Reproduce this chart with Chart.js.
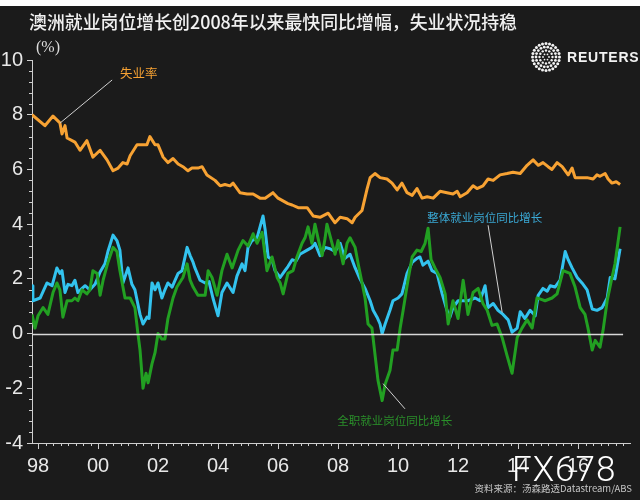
<!DOCTYPE html>
<html><head><meta charset="utf-8">
<script src="https://cdn.jsdelivr.net/npm/chart.js@4.4.0/dist/chart.umd.min.js"></script>
<style>
html,body{margin:0;padding:0;background:#1b1b1b;overflow:hidden}
#wrap{position:relative;width:640px;height:500px}
canvas{display:block}
</style>
</head><body>
<div id="wrap"><canvas id="c" width="640" height="500"></canvas></div>
<script>
// ---------- text ----------
const titleText = '澳洲就业岗位增长创2008年以来最快同比增幅，失业状况持稳';
const unitText = '(%)';
const sourceText = '资料来源：汤森路透Datastream/ABS';
const labelUnemp = '失业率';
const labelTotal = '整体就业岗位同比增长';
const labelFull = '全职就业岗位同比增长';
const watermark = 'FX678';

// ---------- ticks ----------
const xTickYears = [1998, 2000, 2002, 2004, 2006, 2008, 2010, 2012, 2014, 2016];
const xTickLabels = ['98', '00', '02', '04', '06', '08', '10', '12', '14', '16'];
const yTickValues = [-4, -2, 0, 2, 4, 6, 8, 10];

// ---------- unemployment rate (%) ----------
const unempYear = [1997.80,1998.23,1998.50,1998.73,1998.80,1998.90,1998.97,1999.23,1999.40,1999.63,1999.83,2000.07,2000.30,2000.50,2000.67,2000.83,2000.97,2001.07,2001.30,2001.47,2001.63,2001.73,2001.90,2002.00,2002.17,2002.33,2002.50,2002.67,2002.83,2003.00,2003.13,2003.33,2003.47,2003.63,2003.90,2004.07,2004.23,2004.40,2004.50,2004.73,2004.97,2005.17,2005.40,2005.57,2005.83,2006.00,2006.33,2006.47,2006.67,2006.97,2007.17,2007.40,2007.67,2007.90,2008.07,2008.30,2008.47,2008.57,2008.80,2008.97,2009.07,2009.23,2009.40,2009.63,2009.80,2009.97,2010.13,2010.30,2010.47,2010.63,2010.80,2010.97,2011.17,2011.40,2011.63,2011.83,2011.97,2012.07,2012.30,2012.50,2012.63,2012.83,2013.00,2013.17,2013.40,2013.63,2013.83,2014.07,2014.30,2014.50,2014.67,2014.83,2015.00,2015.13,2015.30,2015.47,2015.67,2015.80,2015.90,2016.07,2016.30,2016.50,2016.63,2016.73,2016.90,2017.00,2017.13,2017.27,2017.40];
const unempRate = [8.0,7.6,7.95,7.7,7.3,7.6,7.15,7.0,6.7,7.05,6.45,6.7,6.35,5.95,6.05,6.25,6.2,6.5,6.9,6.9,6.9,7.2,6.9,6.9,6.45,6.25,6.4,6.2,6.1,5.95,6.05,6.05,6.1,5.8,5.6,5.4,5.45,5.4,5.5,5.15,5.1,5.1,4.95,4.95,5.15,4.95,4.75,4.7,4.6,4.6,4.3,4.25,4.4,4.05,4.25,4.2,4.05,4.25,4.5,5.3,5.7,5.85,5.7,5.65,5.5,5.25,5.5,5.15,5.05,5.3,4.95,5.0,4.95,5.2,5.15,5.1,5.2,5.0,5.15,5.4,5.3,5.4,5.65,5.6,5.8,5.85,5.9,5.85,6.15,6.35,6.15,6.25,6.1,6.0,6.25,6.1,5.8,6.05,5.7,5.7,5.7,5.65,5.8,5.75,5.85,5.65,5.5,5.55,5.45];

// ---------- total employment growth, y/y (%) ----------
const totalYear = [1997.80,1997.83,1998.07,1998.30,1998.47,1998.63,1998.73,1998.80,1998.90,1999.00,1999.13,1999.23,1999.33,1999.47,1999.57,1999.73,1999.90,2000.07,2000.23,2000.33,2000.50,2000.63,2000.73,2000.83,2001.00,2001.13,2001.23,2001.40,2001.50,2001.63,2001.70,2001.80,2001.90,2002.00,2002.13,2002.23,2002.33,2002.47,2002.57,2002.67,2002.80,2002.97,2003.07,2003.17,2003.23,2003.40,2003.57,2003.70,2003.83,2004.00,2004.13,2004.30,2004.50,2004.63,2004.80,2004.90,2005.00,2005.13,2005.30,2005.40,2005.50,2005.57,2005.67,2005.80,2005.90,2006.07,2006.23,2006.33,2006.47,2006.60,2006.73,2006.97,2007.13,2007.23,2007.40,2007.57,2007.73,2007.90,2008.07,2008.23,2008.40,2008.57,2008.73,2008.90,2009.07,2009.17,2009.30,2009.40,2009.47,2009.57,2009.73,2009.83,2010.00,2010.13,2010.30,2010.47,2010.63,2010.73,2010.83,2011.00,2011.13,2011.30,2011.47,2011.63,2011.73,2011.83,2012.00,2012.33,2012.57,2012.73,2012.90,2013.00,2013.17,2013.33,2013.50,2013.67,2013.80,2013.97,2014.07,2014.23,2014.40,2014.57,2014.67,2014.83,2014.97,2015.07,2015.23,2015.40,2015.57,2015.67,2015.80,2015.97,2016.13,2016.30,2016.47,2016.63,2016.80,2016.97,2017.07,2017.23,2017.40];
const totalGrowth = [1.75,1.2,1.3,1.85,1.75,2.4,2.2,2.3,1.5,1.8,1.75,1.95,1.5,1.65,1.75,1.6,1.8,2.25,2.55,3.0,3.6,3.4,3.05,1.85,2.4,1.8,1.6,0.7,0.35,0.6,0.55,1.85,1.6,1.85,1.3,1.6,1.85,1.7,1.95,2.2,2.3,3.15,2.85,2.6,2.4,1.95,1.85,1.9,1.3,0.65,1.5,1.85,1.5,2.1,2.55,2.3,3.15,3.4,3.5,3.9,4.3,3.8,2.8,2.7,2.3,2.05,2.3,2.45,2.7,2.65,2.9,3.05,3.15,3.3,2.85,3.15,3.1,3.0,3.3,2.75,2.9,2.4,2.0,1.65,1.2,0.85,0.6,0.35,0.0,0.35,0.85,1.2,1.3,1.45,2.2,2.6,2.75,2.8,2.5,2.65,2.3,2.2,1.45,0.85,0.6,0.95,1.2,1.2,1.3,1.2,1.75,0.95,1.1,0.85,0.7,0.5,0.05,0.2,0.8,0.55,0.85,0.65,1.4,1.65,1.55,1.75,1.7,1.95,3.0,2.7,2.4,2.05,1.85,1.6,0.9,0.85,0.95,1.3,2.05,2.0,3.1];

// ---------- full-time employment growth, y/y (%) ----------
const fullYear = [1997.80,1997.90,1998.00,1998.17,1998.33,1998.50,1998.63,1998.73,1998.83,1998.97,1999.13,1999.23,1999.33,1999.47,1999.63,1999.73,1999.83,1999.97,2000.07,2000.17,2000.33,2000.50,2000.63,2000.73,2000.90,2001.07,2001.23,2001.33,2001.40,2001.50,2001.60,2001.67,2001.80,2001.90,2002.00,2002.13,2002.23,2002.33,2002.50,2002.63,2002.83,2002.97,2003.07,2003.17,2003.33,2003.57,2003.67,2003.80,2003.97,2004.13,2004.30,2004.47,2004.67,2004.83,2005.00,2005.17,2005.30,2005.47,2005.63,2005.80,2005.97,2006.07,2006.17,2006.33,2006.50,2006.63,2006.80,2006.90,2007.00,2007.13,2007.23,2007.33,2007.47,2007.57,2007.63,2007.80,2007.90,2008.00,2008.17,2008.30,2008.40,2008.57,2008.67,2008.80,2008.90,2009.00,2009.13,2009.23,2009.33,2009.47,2009.57,2009.73,2009.83,2009.97,2010.07,2010.17,2010.33,2010.47,2010.63,2010.77,2010.90,2011.00,2011.10,2011.23,2011.40,2011.57,2011.67,2011.83,2012.00,2012.17,2012.33,2012.50,2012.67,2012.83,2012.97,2013.13,2013.30,2013.47,2013.63,2013.80,2013.97,2014.13,2014.30,2014.47,2014.63,2014.77,2014.90,2015.13,2015.30,2015.50,2015.73,2015.90,2016.07,2016.23,2016.33,2016.47,2016.57,2016.73,2016.83,2016.97,2017.13,2017.23,2017.40];
const fullGrowth = [0.7,0.2,0.65,0.95,0.7,1.5,1.85,1.6,0.6,1.2,1.2,1.3,1.2,1.6,1.45,1.6,2.3,2.2,1.4,1.95,2.6,3.15,3.0,2.3,1.3,1.3,0.95,0.0,-0.6,-2.0,-1.45,-1.8,-1.1,-0.7,0.0,-0.2,-0.2,0.55,1.3,1.7,2.05,2.55,1.95,1.7,1.4,1.4,2.3,2.05,1.4,2.3,2.9,2.4,3.05,3.4,3.2,3.65,3.3,3.7,2.3,2.8,2.05,1.85,1.45,2.2,2.3,2.8,3.3,3.5,3.9,3.3,4.0,3.5,2.85,3.5,4.0,3.3,2.9,3.4,2.55,3.3,3.5,3.15,2.55,1.85,1.3,0.35,0.2,-0.75,-1.7,-2.45,-1.85,-1.35,-0.6,-0.6,0.2,0.85,1.95,2.8,3.05,3.0,3.3,3.85,2.7,2.4,2.05,1.45,0.35,1.2,0.55,1.95,0.7,1.5,1.65,1.1,0.85,0.3,0.35,-0.15,-0.8,-1.45,-0.15,0.2,0.5,0.2,1.3,1.25,1.2,1.3,1.45,2.3,2.2,1.7,0.95,0.7,0.2,-0.6,-0.25,-0.5,0.1,1.2,2.05,2.55,3.9];

const pts = (xs, ys) => xs.map((x, i) => ({ x: x, y: ys[i] }));

const BG = '#1b1b1b';
const AXIS = '#cfcfcf';
const CJK = '"Noto Sans CJK SC", "Noto Sans", sans-serif';

const decor = {
  id: 'decor',
  beforeDraw(chart) {
    const c = chart.ctx;
    c.save();
    c.fillStyle = '#ffffff';
    c.fillRect(0, 0, chart.width, chart.height);
    c.fillStyle = BG;
    c.fillRect(0, 6, chart.width, chart.height - 6);
    c.restore();
  },
  afterDatasetsDraw(chart) {
    const c = chart.ctx, x = chart.scales.x, y = chart.scales.y;
    c.save();
    c.strokeStyle = '#d8d8d8';
    c.lineWidth = 1.5;
    c.beginPath();
    const y0 = Math.round(y.getPixelForValue(0)) + 0.5;
    c.moveTo(x.left, y0);
    c.lineTo(x.getPixelForValue(2017.5), y0);
    c.stroke();
    c.restore();
  },
  afterDraw(chart) {
    const c = chart.ctx, x = chart.scales.x, y = chart.scales.y;
    const px = v => x.getPixelForValue(v), py = v => y.getPixelForValue(v);
    c.save();
    // minor ticks
    c.strokeStyle = AXIS; c.lineWidth = 1;
    c.beginPath();
    for (let k = 0; k * 0.25 + 1998 <= x.max; k++) {
      if (k % 8 === 0) continue;
      const xx = Math.round(px(1998 + k * 0.25)) + 0.5;
      c.moveTo(xx, y.bottom); c.lineTo(xx, y.bottom + 3);
    }
    for (let k = 0; k <= 35; k++) {
      if (k % 5 === 0) continue;
      const yy = Math.round(py(-4 + k * 0.4)) + 0.5;
      c.moveTo(x.left, yy); c.lineTo(x.left - 3, yy);
    }
    c.stroke();

    // title
    c.fillStyle = '#f0f0f0';
    c.font = '500 18.5px ' + CJK;
    c.textBaseline = 'middle'; c.textAlign = 'left';
    c.fillText(titleText, 29, 22, 488);
    // unit
    c.font = '16px "Liberation Serif", serif';
    c.fillStyle = '#dddddd';
    c.fillText(unitText, 36, 48);

    // annotations + leaders
    c.strokeStyle = '#d0d0d0'; c.lineWidth = 1;
    c.beginPath();
    c.moveTo(px(2000.47), py(9.27)); c.lineTo(px(1998.73), py(7.69));
    c.moveTo(px(2013.00), py(3.96)); c.lineTo(px(2013.47), py(0.77));
    c.moveTo(px(2010.23), py(-2.75)); c.lineTo(px(2009.50), py(-1.83));
    c.stroke();
    c.font = '12.5px ' + CJK;
    c.fillStyle = '#f7a233';
    c.fillText(labelUnemp, px(2000.73), py(9.52));
    c.font = '11.5px ' + CJK;
    c.fillStyle = '#3aa8d4';
    c.fillText(labelTotal, px(2010.97), py(4.25));
    c.fillStyle = '#2a8f2a';
    c.fillText(labelFull, px(2007.97), py(-3.19));

    // source
    c.font = '9.5px ' + CJK;
    c.fillStyle = '#c4c4c4';
    c.textAlign = 'right';
    c.fillText(sourceText, 632, 488);

    // Reuters logo
    const cx = 546, cy = 57;
    c.fillStyle = '#f2f2f2';
    const rings = [[3, 6, 0.9], [6.5, 12, 1.2], [10, 18, 1.4], [13.5, 24, 1.5]];
    rings.forEach(([r, n, s]) => {
      for (let i = 0; i < n; i++) {
        const a = i / n * Math.PI * 2;
        c.beginPath(); c.arc(cx + r * Math.cos(a), cy + r * Math.sin(a), s, 0, Math.PI * 2); c.fill();
      }
    });
    c.textAlign = 'left';
    c.font = 'bold 14px "Liberation Sans", Arial, sans-serif';
    if ('letterSpacing' in c) c.letterSpacing = '0.8px';
    c.fillText('REUTERS', 567, 58);

    // watermark
    c.font = '300 35px Roboto, "Liberation Sans", sans-serif';
    if ('letterSpacing' in c) c.letterSpacing = '1px';
    c.fillStyle = '#ffffff';
    c.textBaseline = 'alphabetic';
    c.fillText(watermark, 512, 481);
    c.restore();
  }
};

new Chart(document.getElementById('c'), {
  type: 'line',
  data: {
    datasets: [
      { label: labelFull, data: pts(fullYear, fullGrowth), borderColor: '#22a022', borderWidth: 3, pointRadius: 0, tension: 0, borderJoinStyle: 'round' },
      { label: labelTotal, data: pts(totalYear, totalGrowth), borderColor: '#33c3ef', borderWidth: 3, pointRadius: 0, tension: 0, borderJoinStyle: 'round' },
      { label: labelUnemp, data: pts(unempYear, unempRate), borderColor: '#f7a233', borderWidth: 3, pointRadius: 0, tension: 0, borderJoinStyle: 'round' }
    ]
  },
  options: {
    responsive: false, animation: false, devicePixelRatio: 1,
    layout: { padding: { top: 60, right: 10, left: 0, bottom: 0 } },
    plugins: { legend: { display: false }, tooltip: { enabled: false }, title: { display: false } },
    scales: {
      x: {
        type: 'linear', min: 1997.80, max: 2017.73,
        afterBuildTicks: a => { a.ticks = xTickYears.map(v => ({ value: v })); },
        afterFit: s => { s.height = 57; },
        grid: { drawOnChartArea: false, drawTicks: true, tickLength: 6, tickColor: AXIS },
        border: { display: true, color: AXIS, width: 1 },
        ticks: { color: '#e8e8e8', font: { family: '"Liberation Sans", Arial, sans-serif', size: 20 }, padding: 5, maxRotation: 0, autoSkip: false,
          callback: (v, i) => xTickLabels[i] }
      },
      y: {
        min: -4, max: 10,
        afterBuildTicks: a => { a.ticks = yTickValues.map(v => ({ value: v })); },
        afterFit: s => { s.width = 32; },
        grid: { drawOnChartArea: false, drawTicks: true, tickLength: 5, tickColor: AXIS },
        border: { display: true, color: AXIS, width: 1 },
        ticks: { color: '#e8e8e8', font: { family: '"Liberation Sans", Arial, sans-serif', size: 20 }, padding: 4, autoSkip: false,
          callback: v => String(v) }
      }
    }
  },
  plugins: [decor]
});
</script>
</body></html>
